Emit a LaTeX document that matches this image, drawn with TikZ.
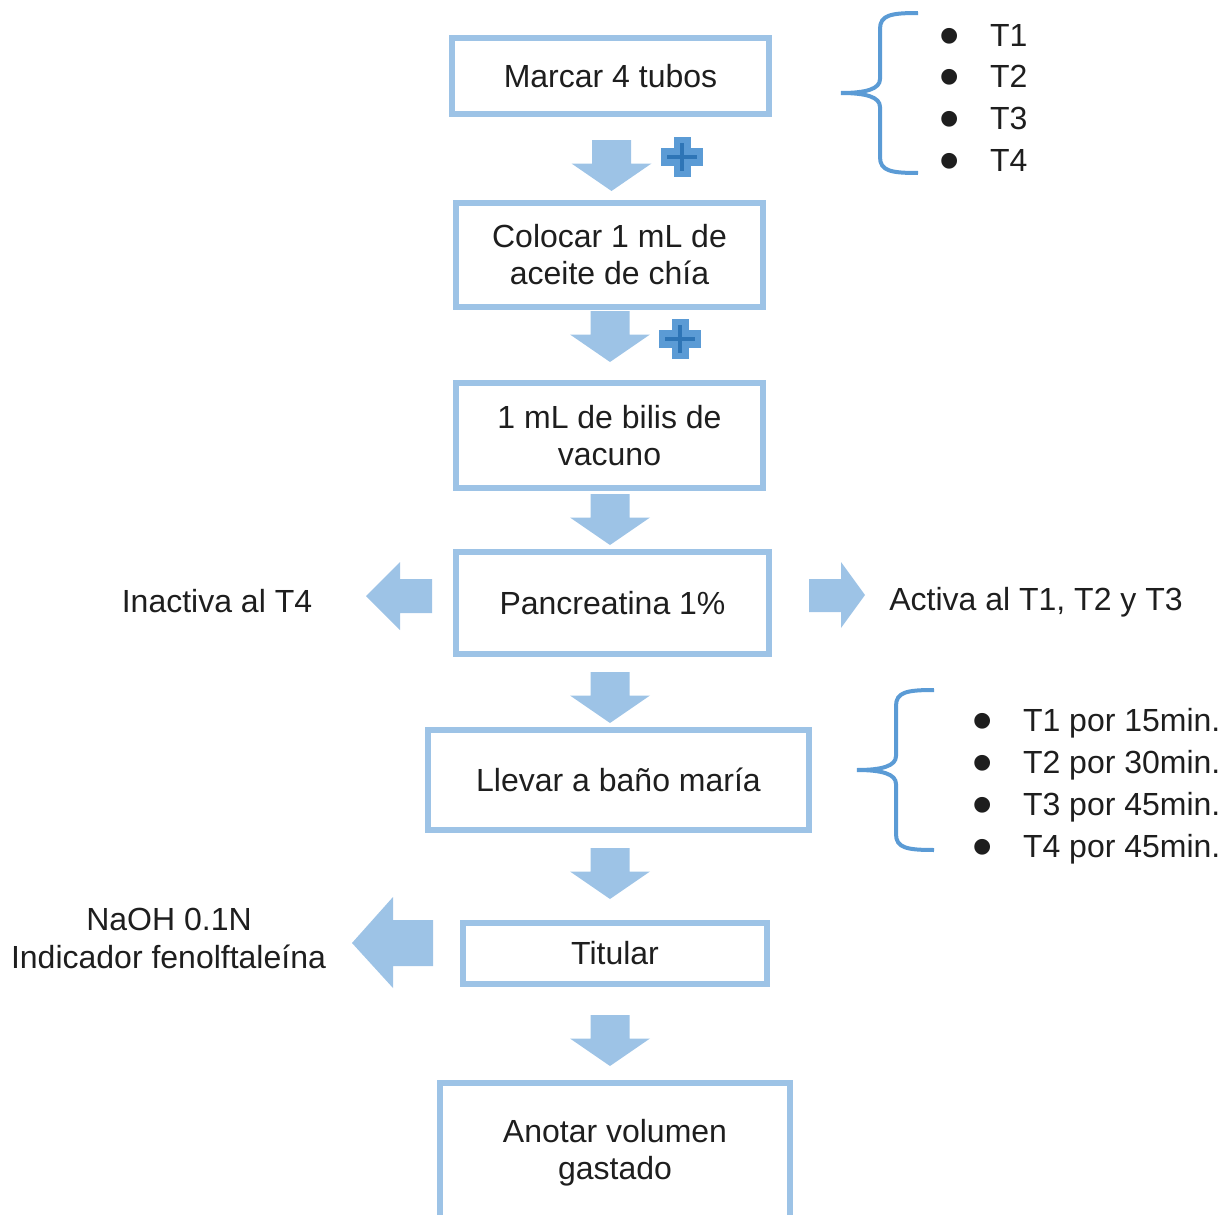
\documentclass[tikz,border=0pt]{standalone}
\usepackage{fontspec}
\setmainfont{Liberation Sans}
\definecolor{boxblue}{HTML}{9DC3E6}
\definecolor{arrowblue}{HTML}{9DC3E6}
\definecolor{plusout}{HTML}{5B9BD5}
\definecolor{plusin}{HTML}{2E75B6}
\definecolor{bracecol}{HTML}{5B9BD5}
\definecolor{txt}{HTML}{1E1E1E}
\begin{document}
\begin{tikzpicture}[x=0.5pt,y=-0.5pt,
  stepbox/.style={draw=boxblue, line width=2.9pt, inner sep=0pt, outer sep=0pt,
    align=center, font=\fontsize{16}{18.5}\selectfont, text=txt},
  lbl/.style={inner sep=0pt, outer sep=0pt, font=\fontsize{16}{18.5}\selectfont, text=txt},
  bullet/.style={inner sep=0pt, outer sep=0pt, font=\fontsize{29}{30}\selectfont, text=txt,
    text height=10pt, text depth=0pt},
  dnarrow/.pic={\fill[arrowblue] (-19.5,0) -- (19.5,0) -- (19.5,23.5) -- (40,23.5)
      -- (0,51) -- (-40,23.5) -- (-19.5,23.5) -- cycle;},
  plussign/.pic={
    \fill[plusout] (-21,-9) rectangle (21,9);
    \fill[plusout] (-8.5,-20) rectangle (8.5,20);
    \draw[plusin, line width=2.4pt] (-15,0) -- (15,0);
    \draw[plusin, line width=2.4pt] (0,-14) -- (0,14);},
  bracepic/.pic={\draw[bracecol, line width=2pt]
      (77,-80) .. controls (50,-80) and (39,-78) .. (39,-64) -- (39,-14)
      .. controls (39,-4) and (25,0) .. (0,0)
      .. controls (25,0) and (39,4) .. (39,14) -- (39,64)
      .. controls (39,78) and (50,80) .. (77,80);},
]
\useasboundingbox (0,0) rectangle (1223,1215);

% process steps
\node[stepbox, minimum width=158.75pt, minimum height=38.25pt] (s1) at (610.5,76) {Marcar 4 tubos};
\node[stepbox, minimum width=153.75pt, minimum height=51.75pt] (s2) at (609.5,255) {Colocar 1 mL de\\aceite de chía};
\node[stepbox, minimum width=153.75pt, minimum height=52.25pt] (s3) at (609.5,435.5) {1 mL de bilis de\\vacuno};
\node[stepbox, minimum width=156.75pt, minimum height=51.25pt] (s4) at (612.5,603) {Pancreatina 1\%};
\node[stepbox, minimum width=190.75pt, minimum height=50pt] (s5) at (618.5,780) {Llevar a baño maría};
\node[stepbox, minimum width=152.25pt, minimum height=30.75pt] (s6) at (615,953.5) {Titular};
\node[stepbox, minimum width=175.25pt, minimum height=70.25pt] (s7) at (615,1153) {Anotar volumen\\gastado};

% block arrows between the steps
\pic at (611.5,140) {dnarrow};
\pic at (610,311) {dnarrow};
\pic at (610,494) {dnarrow};
\pic at (610,672) {dnarrow};
\pic at (610,848) {dnarrow};
\pic at (610,1015) {dnarrow};

% additions
\pic at (682,157) {plussign};
\pic at (680,339) {plussign};

% side arrows
\fill[arrowblue] (366,596) -- (400,562) -- (400,579) -- (432,579) -- (432,613)
  -- (400,613) -- (400,630) -- cycle;
\fill[arrowblue] (865,595) -- (841,562) -- (841,579) -- (809,579) -- (809,612)
  -- (841,612) -- (841,628) -- cycle;
\fill[arrowblue] (352,943) -- (393,897) -- (393,920) -- (433,920) -- (433,966)
  -- (393,966) -- (393,988) -- cycle;

% side labels
\node[lbl, anchor=base] (inact) at (217,612) {Inactiva al T4};
\node[lbl, anchor=base] (act) at (1036,610.5) {Activa al T1, T2 y T3};
\node[lbl, anchor=base] (naoh) at (169,930.5) {NaOH 0.1N};
\node[lbl, anchor=base] (indic) at (168.5,968.5) {Indicador fenolftaleína};

% tube list
\pic at (841,93) {bracepic};
\foreach \t/\y in {1/46.5,2/87.5,3/129.5,4/171.5}{
  \node[bullet, anchor=base] (b\t) at (950,\y+9) {•};
  \node[lbl, anchor=base west] (t\t) at (990,\y) {T\t};
}

% incubation times
\pic at (857,770) {bracepic};
\foreach \t/\m/\y in {1/15/731.5,2/30/773.5,3/45/815.5,4/45/857.5}{
  \node[bullet, anchor=base] (c\t) at (983,\y+9) {•};
  \node[lbl, anchor=base west] (m\t) at (1023,\y) {T\t{} por \m min.};
}
\end{tikzpicture}
\end{document}
